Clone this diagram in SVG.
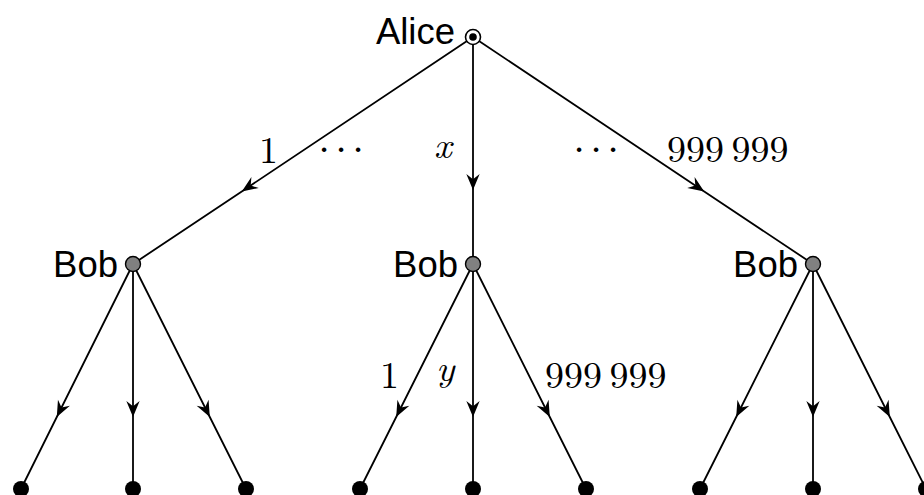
<svg xmlns="http://www.w3.org/2000/svg" width="924" height="495" viewBox="0 0 924 495">
<defs>
<style>
.e{fill:none;stroke:#000;stroke-width:1.8;marker-mid:url(#ar)}
.lbl{font-family:"Liberation Sans",Arial,sans-serif;font-size:36.5px;fill:#000;text-anchor:end}
.m{font-family:"Latin Modern Roman","Liberation Serif","DejaVu Serif",serif;font-size:38px;fill:#000}
.mi{font-style:italic}
.dots{font-family:"Liberation Serif",serif;font-size:38px;fill:#000;text-anchor:middle}
.bob{fill:#808080;stroke:#000;stroke-width:1.4}
.leaf{fill:#000}
</style>
<marker id="ar" markerUnits="userSpaceOnUse" markerWidth="20" markerHeight="20" viewBox="-13 -6 15 12" refX="0" refY="0" orient="auto">
<path d="M0,0 L-12,-5 L-8,0 L-12,5 Z" fill="#000"/>
</marker>
</defs>
<g id="connectors">
<path class="e" d="M473,37 L241.8,191.4 L133,264"/>
<path class="e" d="M473,37 L473,190 L473,264"/>
<path class="e" d="M473,37 L704.2,191.4 L813,264"/>
<path class="e" d="M133,264 L56.8,417 L21,489"/>
<path class="e" d="M133,264 L133,417 L133,489"/>
<path class="e" d="M133,264 L209.8,417 L246,489"/>
<path class="e" d="M473,264 L396.2,417 L360,489"/>
<path class="e" d="M473,264 L473,417 L473,489"/>
<path class="e" d="M473,264 L549.8,417 L586,489"/>
<path class="e" d="M813,264 L736.2,417 L700,489"/>
<path class="e" d="M813,264 L813,417 L813,489"/>
<path class="e" d="M813,264 L889.8,417 L926,489"/>
</g>
<g id="edge-labels">
<text class="m" x="259" y="163">1</text>
<text class="dots" x="324 341 358" y="162">···</text>
<text class="m mi" x="434" y="158">x</text>
<text class="dots" x="579 596 613" y="162">···</text>
<text class="m" x="667" y="162">999&#8201;999</text>
<text class="m" x="380" y="388">1</text>
<text class="m mi" x="436" y="381">y</text>
<text class="m" x="545" y="388">999&#8201;999</text>
</g>
<g id="alice">
<circle cx="473" cy="37" r="7.5" fill="#fff" stroke="#000" stroke-width="1.6"/>
<circle cx="473" cy="37" r="3.8" fill="#000"/>
<text class="lbl" x="455" y="44">Alice</text>
</g>
<g id="bob-1"><circle class="bob" cx="133" cy="264" r="7.5"/><text class="lbl" x="118" y="277">Bob</text></g>
<g id="bob-2"><circle class="bob" cx="473" cy="264" r="7.5"/><text class="lbl" x="458" y="277">Bob</text></g>
<g id="bob-3"><circle class="bob" cx="813" cy="264" r="7.5"/><text class="lbl" x="798" y="277">Bob</text></g>
<g id="leaf-1"><circle class="leaf" cx="21" cy="489" r="8"/></g>
<g id="leaf-2"><circle class="leaf" cx="133" cy="489" r="8"/></g>
<g id="leaf-3"><circle class="leaf" cx="246" cy="489" r="8"/></g>
<g id="leaf-4"><circle class="leaf" cx="360" cy="489" r="8"/></g>
<g id="leaf-5"><circle class="leaf" cx="473" cy="489" r="8"/></g>
<g id="leaf-6"><circle class="leaf" cx="586" cy="489" r="8"/></g>
<g id="leaf-7"><circle class="leaf" cx="700" cy="489" r="8"/></g>
<g id="leaf-8"><circle class="leaf" cx="813" cy="489" r="8"/></g>
<g id="leaf-9"><circle class="leaf" cx="926" cy="489" r="8"/></g>
</svg>
